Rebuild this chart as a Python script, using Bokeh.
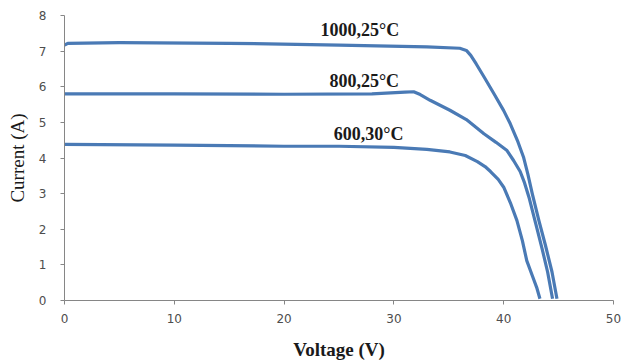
from bokeh.plotting import figure
from bokeh.embed import file_html
from bokeh.resources import INLINE
from bokeh.models import Range1d, FixedTicker
from bokeh.core.properties import value

# 1000 W/m2, 25 C
v1000 = [0, 0.3, 5, 15, 25, 33, 36, 36.6, 37.0, 37.5, 38.2, 39.1, 40.0, 40.6, 41.3, 41.8, 42.2, 42.6, 43.2, 43.8, 44.4, 44.85]
i1000 = [7.17, 7.22, 7.24, 7.22, 7.17, 7.12, 7.08, 7.02, 6.88, 6.64, 6.28, 5.81, 5.33, 4.96, 4.45, 4.03, 3.55, 3.0, 2.25, 1.55, 0.8, 0.05]
# 800 W/m2, 25 C
v800 = [0, 10, 20, 28, 31, 31.8, 32.4, 33.3, 35.1, 36.6, 38.2, 39.3, 40.3, 40.9, 41.5, 41.9, 42.3, 42.9, 43.5, 44.0, 44.45]
i800 = [5.8, 5.8, 5.79, 5.8, 5.85, 5.86, 5.78, 5.62, 5.34, 5.08, 4.68, 4.44, 4.21, 3.93, 3.62, 3.3, 2.9, 2.18, 1.45, 0.8, 0.05]
# 600 W/m2, 30 C
v600 = [0, 10, 20, 25, 30, 33, 35.1, 36.5, 37.6, 38.3, 38.8, 39.5, 40.0, 40.6, 41.2, 41.7, 42.1, 42.6, 43.0, 43.3]
i600 = [4.38, 4.36, 4.33, 4.33, 4.3, 4.24, 4.17, 4.07, 3.9, 3.76, 3.62, 3.4, 3.18, 2.75, 2.25, 1.68, 1.12, 0.7, 0.37, 0.05]

labels = ["1000,25\u00b0C", "800,25\u00b0C", "600,30\u00b0C"]
label_x = [26.9, 27.3, 27.7]
label_y = [7.58, 6.15, 4.66]

x_ticks = [0, 10, 20, 30, 40, 50]
y_ticks = [0, 1, 2, 3, 4, 5, 6, 7, 8]

color = "#4a7ab5"

p = figure(width=622, height=363, output_backend="svg", toolbar_location=None,
           x_range=Range1d(0, 50), y_range=Range1d(0, 8),
           min_border_left=64, min_border_right=9, min_border_top=15, min_border_bottom=63)
p.outline_line_color = None
p.grid.visible = False
p.background_fill_color = "white"
p.border_fill_color = "white"

for xs, ys in [(v1000, i1000), (v800, i800), (v600, i600)]:
    p.line(xs, ys, line_color=color, line_width=3.2, line_join="round")

p.text(x=label_x, y=label_y, text=labels, text_font=value("Liberation Serif"),
       text_font_style="bold", text_font_size="18px", text_color="#1a1a1a",
       text_align="center", text_baseline="middle")

for ax in (p.xaxis[0], p.yaxis[0]):
    ax.axis_line_color = "#868686"
    ax.major_tick_line_color = "#868686"
    ax.minor_tick_line_color = None
    ax.major_tick_in = 0
    ax.major_tick_out = 4
    ax.major_label_text_font = "DejaVu Sans"
    ax.major_label_text_font_size = "12px"
    ax.major_label_text_color = "#4d4d4d"
    ax.axis_label_text_font = "Liberation Serif"
    ax.axis_label_text_color = "#1a1a1a"

p.xaxis[0].ticker = FixedTicker(ticks=x_ticks)
p.yaxis[0].ticker = FixedTicker(ticks=y_ticks)
p.xaxis[0].axis_label = "Voltage (V)"
p.xaxis[0].axis_label_text_font_style = "bold"
p.xaxis[0].axis_label_text_font_size = "19px"
p.xaxis[0].major_label_standoff = 9
p.xaxis[0].axis_label_standoff = 13
p.yaxis[0].axis_label = "Current (A)"
p.yaxis[0].axis_label_text_font_style = "normal"
p.yaxis[0].axis_label_text_font_size = "19px"
p.yaxis[0].major_label_standoff = 14
p.yaxis[0].axis_label_standoff = 8

open("out.html", "w").write(file_html(p, INLINE))
